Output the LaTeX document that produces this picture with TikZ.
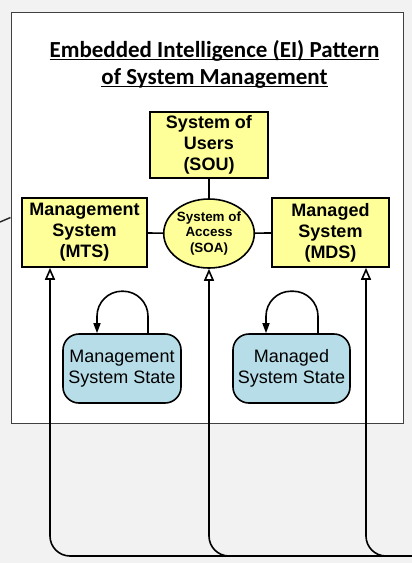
\documentclass[tikz,border=0pt]{standalone}
\usepackage{fontspec}
\setmainfont{Liberation Sans}
\newfontfamily\titlefont{Carlito}
\usetikzlibrary{arrows.meta,shapes.geometric}
\definecolor{pagegray}{HTML}{F2F2F2}
\definecolor{boxyellow}{HTML}{FFFF99}
\definecolor{stateblue}{HTML}{B7DEE8}
\definecolor{framegray}{HTML}{404040}
\newcommand{\titleline}[1]{\setbox0\hbox{#1}\rlap{\rule[-2.8pt]{\wd0}{1.3pt}}\box0}

\begin{document}
\begin{tikzpicture}[x=1pt,y=-1pt,>={Triangle[length=10pt,width=7pt]},
  sysbox/.style={draw,line width=1.6pt,fill=boxyellow,align=center,inner sep=0pt,
    font=\fontsize{18}{21}\selectfont\bfseries},
  statebox/.style={draw,line width=1.6pt,fill=stateblue,rounded corners=16pt,align=center,
    inner sep=0pt,minimum height=69pt,font=\fontsize{18}{21.6}\selectfont},
  link/.style={line width=1.6pt},
  feed/.style={line width=1.6pt,rounded corners=20pt,-{Triangle[open,length=12pt,width=10pt]}},
  selfloop/.style={line width=1.6pt,rounded corners=25pt,->}]
  \fill[pagegray] (0,0) rectangle (412,563);
  \useasboundingbox (0,0) rectangle (412,563);
  \node[draw=framegray,line width=1pt,fill=white,minimum width=392pt,minimum height=411pt] (ei) at (207,217.5) {};
  \node[font=\titlefont\fontsize{23}{27}\selectfont\bfseries,align=center] (title) at (214.5,64)
    {\titleline{Embedded Intelligence (EI) Pattern}\\\titleline{of System Management}};
  \node[sysbox,minimum width=118pt,minimum height=66pt] (sou) at (209,145) {System of\\Users\\(SOU)};
  \node[sysbox,minimum width=125pt,minimum height=69pt] (mts) at (84.5,232.5) {Management\\System\\(MTS)};
  \node[sysbox,minimum width=117pt,minimum height=69pt] (mds) at (330.5,232.5) {Managed\\System\\(MDS)};
  \node[ellipse,draw,line width=1.6pt,fill=boxyellow,minimum width=84pt,minimum height=69pt,inner sep=0pt,
    align=center,font=\fontsize{13.4}{15.8}\selectfont\bfseries] (soa) at (209,233.5) {System of\\Access\\(SOA)};
  \draw[link] (sou) -- (soa);
  \draw[link] (mts) -- (soa);
  \draw[link] (soa) -- (mds);
  \node[statebox,minimum width=118pt] (mss) at (122,368.5) {Management\\System State};
  \node[statebox,minimum width=117pt] (dss) at (291.5,368.5) {Managed\\System State};
  \draw[selfloop] ([xshift=26pt]mss.north) -- ++(0,-42) -| ([xshift=-25pt]mss.north);
  \draw[selfloop] ([xshift=26.5pt]dss.north) -- ++(0,-42) -| ([xshift=-25.5pt]dss.north);
  % feedback lines from outside
  \coordinate (bus) at (412,556);
  \coordinate (stub) at (0,222);
  \draw[feed] (bus) -| ([xshift=-34.5pt]mts.south);
  \draw[feed] (bus) -| (soa.south);
  \draw[feed] (bus) -| ([xshift=35.5pt]mds.south);
  \draw[line width=1.4pt,black!85] (stub) -- (ei.west);
\end{tikzpicture}
\end{document}
